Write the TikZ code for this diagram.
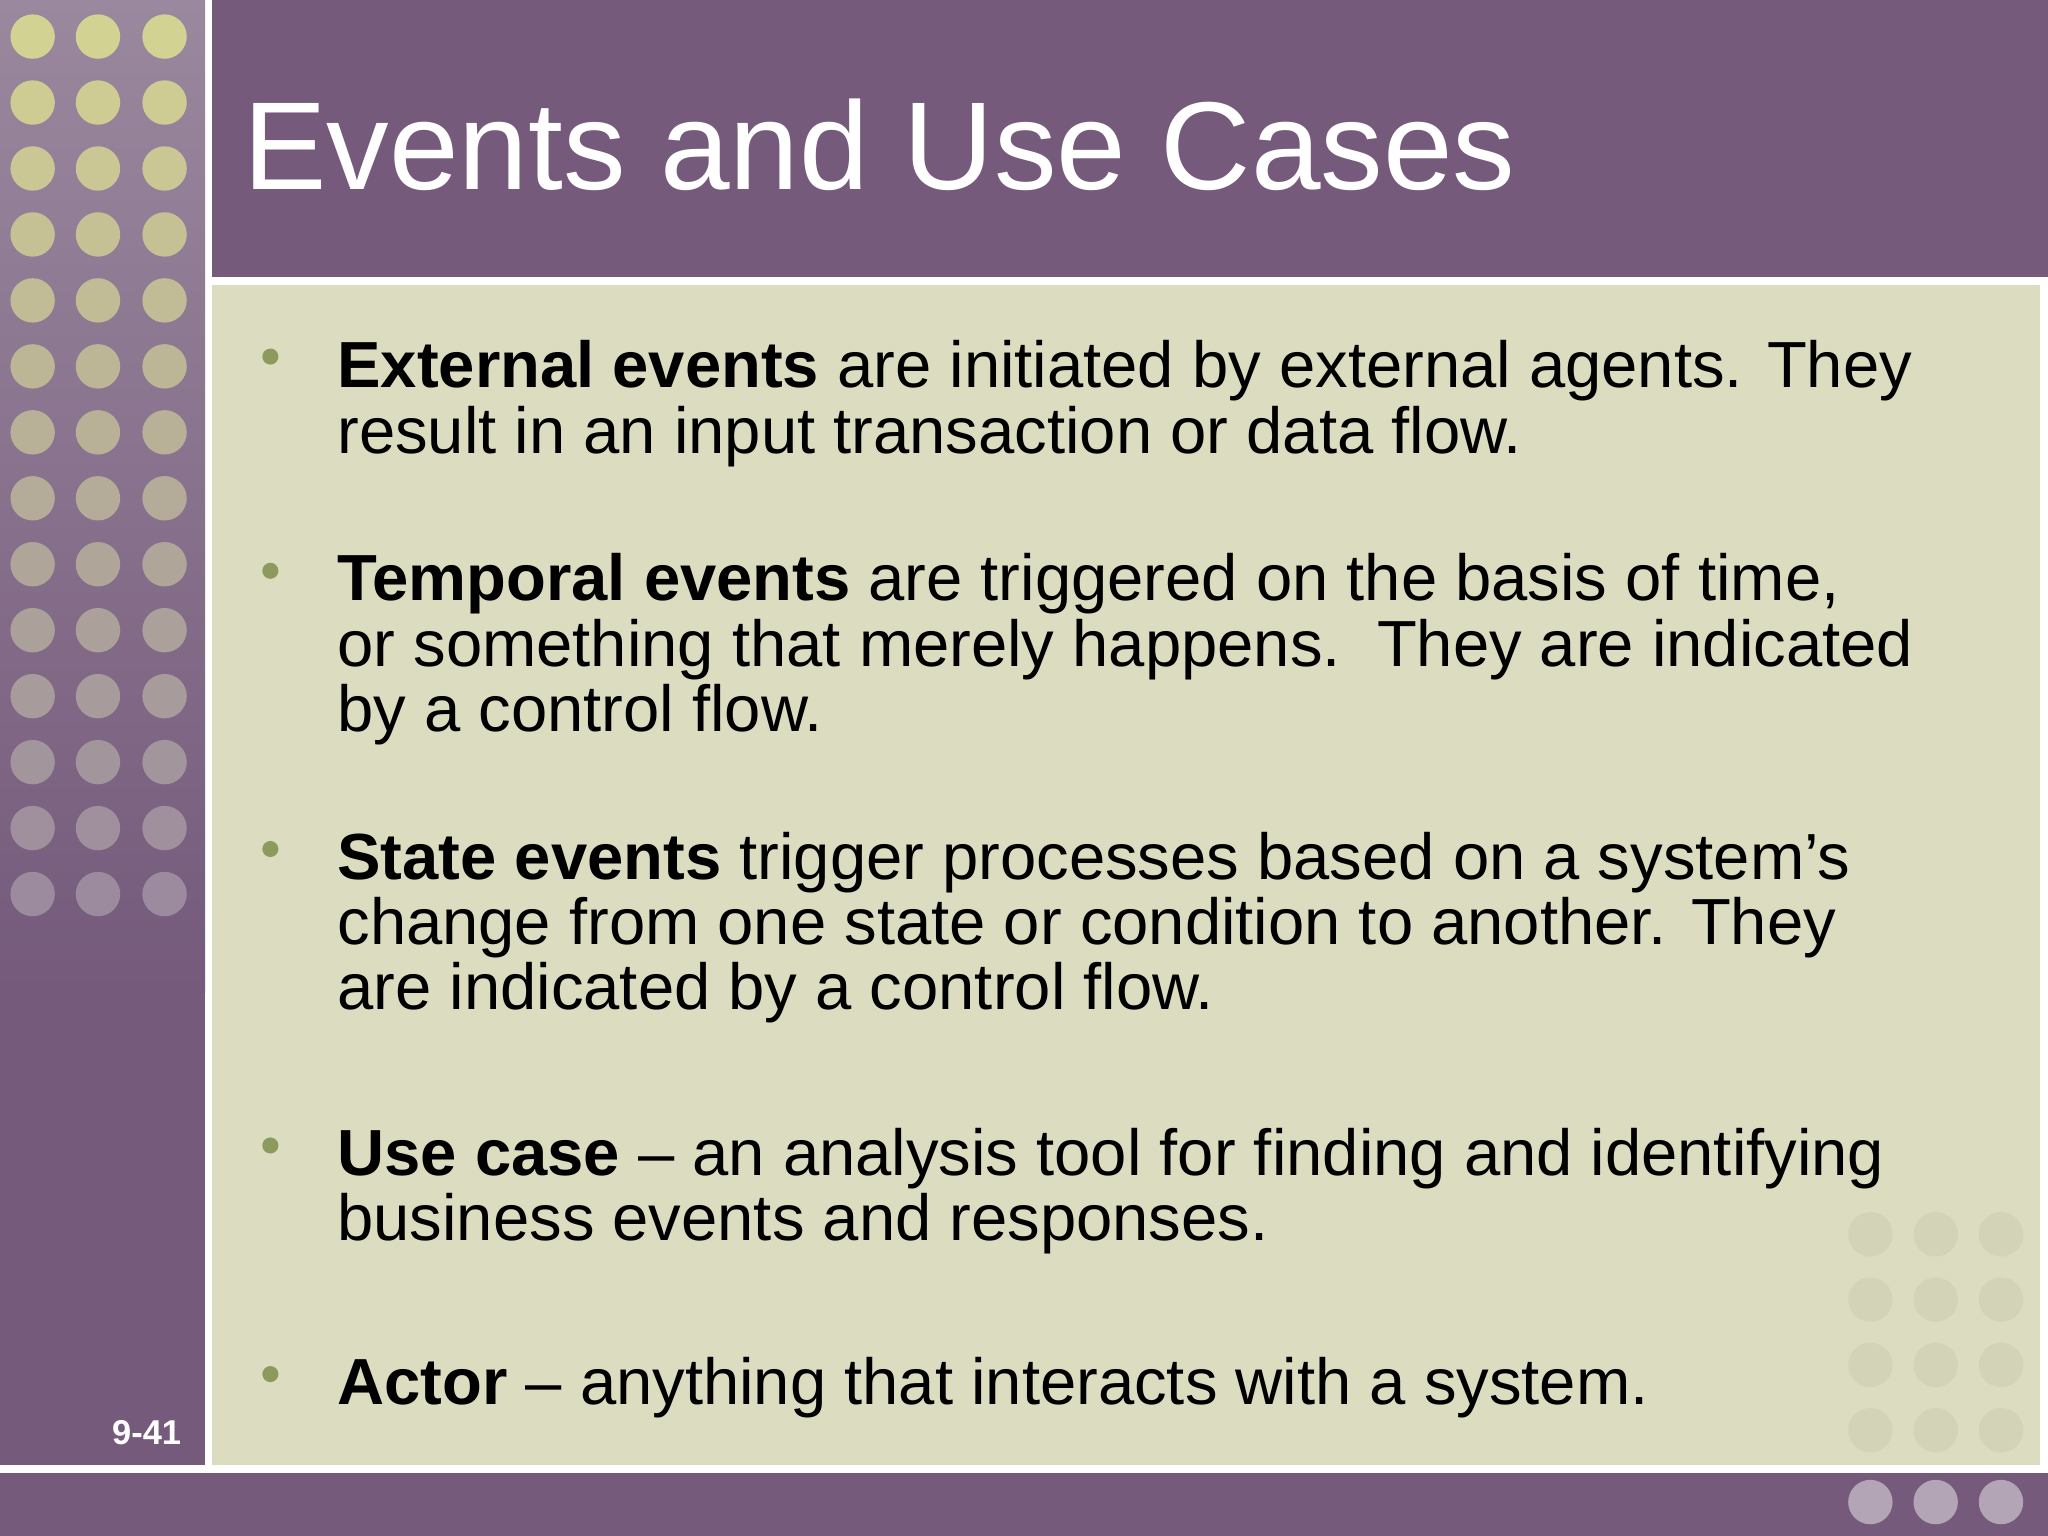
\documentclass[tikz,border=0pt]{standalone}
\usepackage{fontspec}
\setmainfont{Liberation Sans}
\definecolor{purp}{HTML}{755A7B}
\definecolor{purpl}{HTML}{9A889E}
\definecolor{bg}{HTML}{DCDCC0}
\definecolor{dotc}{HTML}{D2D292}
\definecolor{bul}{HTML}{8C9A5E}
\begin{document}
\begin{tikzpicture}[x=0.02cm,y=-0.02cm,
  para/.style={anchor=base west,inner sep=0pt,font=\fontsize{28.4}{28.45pt}\selectfont},
  bullet/.style={circle,fill=bul,inner sep=0pt,minimum size=7pt}]
\useasboundingbox (0,0) rectangle (1568,1176);
\fill[white] (0,0) rectangle (1568,1176);
\shade[top color=purpl,bottom color=purp] (0,0) rectangle (157,760);
\fill[purp] (0,760) rectangle (157,1122);
\fill[purp] (162,0) rectangle (1568,212);
\fill[bg] (162,218) rectangle (1562,1122);
\fill[purp] (0,1128) rectangle (1568,1176);
\foreach \i in {0,...,13}{
  \pgfmathtruncatemacro{\m}{max(100-7.5*\i,4)}
  \foreach \x in {25,75,126}
    \fill[dotc!\m!purpl] (\x,{28+50.5*\i}) circle (17);
}
\foreach \i in {0,...,3}
  \foreach \x in {1432,1482,1532}
    \fill[black!4!bg] (\x,{945+50*\i}) circle (17);
\foreach \x in {1432,1482,1532}
  \fill[white!45!purp] (\x,1150) circle (17);
\node[anchor=base west,inner sep=0pt,text=white,font=\fontsize{54.5}{60}\selectfont] (title) at (186,145) {Events and Use Cases};
\node[anchor=base east,inner sep=0pt,text=white,font=\bfseries\fontsize{15}{18}\selectfont] (num) at (139,1106) {9-41};
\node[bullet] (b1) at (207,273) {};
\node[para] (p1) at (258,297) {\parbox[t]{27cm}{\textbf{External events} are initiated by external agents. They\\result in an input transaction or data flow.}};
\node[bullet] (b2) at (207,437) {};
\node[para] (p2) at (258,460) {\parbox[t]{27cm}{\textbf{Temporal events} are triggered on the basis of time,\\or something that merely happens.\ \ They are indicated\\by a control flow.}};
\node[bullet] (b3) at (207,650) {};
\node[para] (p3) at (258,673) {\parbox[t]{27cm}{\textbf{State events} trigger processes based on a system’s\\change from one state or condition to another. They\\are indicated by a control flow.}};
\node[bullet] (b4) at (207,877) {};
\node[para] (p4) at (258,900) {\parbox[t]{27cm}{\textbf{Use case} – an analysis tool for finding and identifying\\business events and responses.}};
\node[bullet] (b5) at (207,1052) {};
\node[para] (p5) at (258,1075) {\textbf{Actor} – anything that interacts with a system.};
\end{tikzpicture}
\end{document}
